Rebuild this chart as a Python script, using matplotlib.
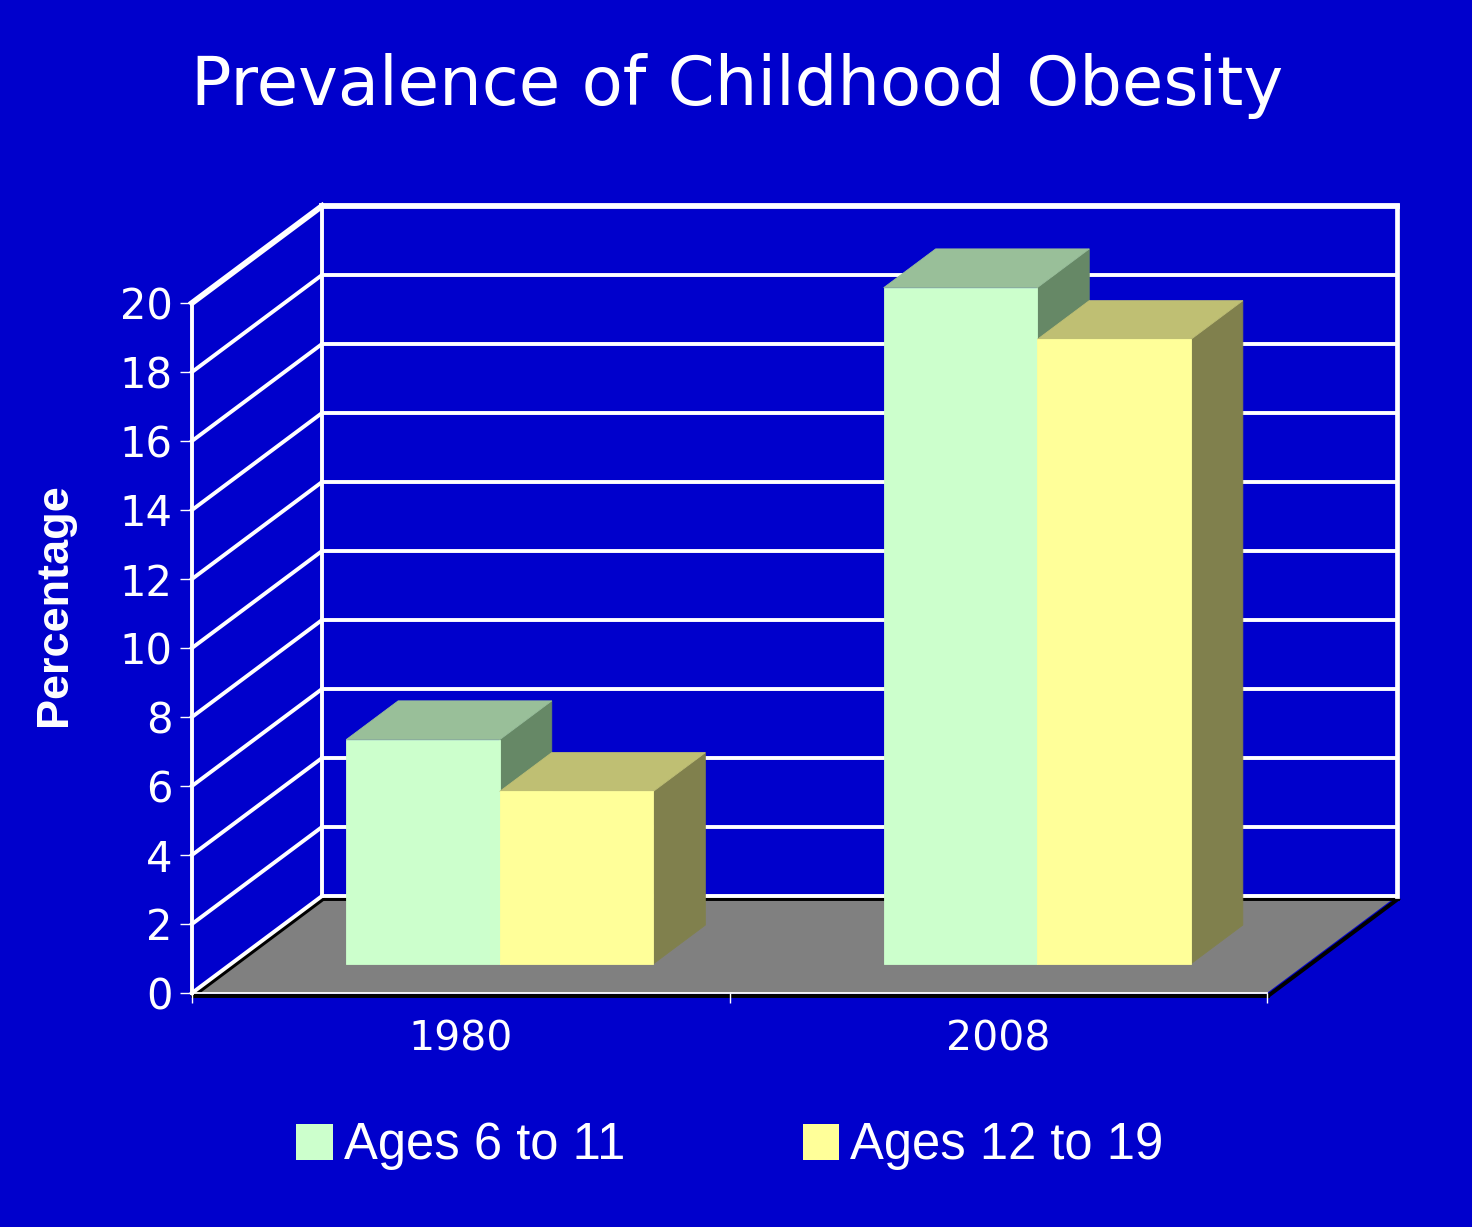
import numpy as np
import matplotlib
matplotlib.use('Agg')
import matplotlib.pyplot as plt
import matplotlib.transforms as mtransforms
from matplotlib.patches import Polygon, Patch

# chart data
years = ['1980', '2008']
ages_6_11 = [6.5, 19.6]
ages_12_19 = [5.0, 18.1]
series_names = ['Ages 6 to 11', 'Ages 12 to 19']
y_ticks = list(range(0, 21, 2))

# colours (front, top, side)
BG = '#0000CC'
green = ('#CCFFCC', '#99BF99', '#668866')
yellow = ('#FFFF99', '#BFBF73', '#80804D')

plt.rcParams['font.family'] = 'DejaVu Sans'

W, H = 1472, 1227
fig = plt.figure(figsize=(W / 100, H / 100), dpi=100, facecolor=BG)

# fake 3d: depth vector of the whole box, in data units
DX = 130 / 537.5
DY = 97 / 34.5
BW = 1 / 3.5          # bar width (gap width 150%)
D0, D1 = 0.3, 0.7     # bar front / back depth

ax = fig.add_axes([192 / W, (H - 993) / H, 1205 / W, (20 + DY) * 34.5 / H])
ax.set_xlim(0, 2 + DX)
ax.set_ylim(0, 20 + DY)
ax.set_facecolor('none')
for s in ax.spines.values():
    s.set_visible(False)


def proj(x, v, d):
    return (x + d * DX, v + d * DY)


def line(p, q, **kw):
    ax.plot([p[0], q[0]], [p[1], q[1]], clip_on=False,
            solid_capstyle='projecting', **kw)


shadow = mtransforms.offset_copy(ax.transData, fig=fig, x=1, y=-3, units='dots')

# floor
ax.add_patch(Polygon([proj(0, 0, 0), proj(2, 0, 0), proj(2, 0, 1), proj(0, 0, 1)],
                     closed=True, facecolor='#808080', edgecolor='none', zorder=1))
for p, q in [(proj(0, 0, 0), proj(0, 0, 1)), (proj(0, 0, 1), proj(2, 0, 1)),
             (proj(2, 0, 0), proj(2, 0, 1)), (proj(0, 0, 0), proj(2, 0, 0))]:
    line(p, q, color='black', lw=2.8, transform=shadow, zorder=1.5)

# walls and gridlines
for v in y_ticks:
    lw = 4.2 if v == 20 else 2.8
    line(proj(0, v, 1), proj(2, v, 1), color='white', lw=lw, zorder=2)
    line(proj(0, v, 0), proj(0, v, 1), color='white', lw=lw, zorder=2)
line(proj(0, 0, 1), proj(0, 20, 1), color='white', lw=2.8, zorder=2)
line(proj(2, 0, 1), proj(2, 20, 1), color='white', lw=3.4, zorder=2)
line(proj(0, 0, 0), proj(0, 20, 0), color='white', lw=2.8, zorder=2)
line(proj(0, 0, 0), proj(2, 0, 0), color='white', lw=1.3, zorder=2)

# bars
for i in range(len(years)):
    c = i + 0.5
    for j, (vals, cols) in enumerate([(ages_6_11, green), (ages_12_19, yellow)]):
        x0 = c - BW + j * BW
        x1 = x0 + BW
        v = vals[i]
        front = [proj(x0, 0, D0), proj(x1, 0, D0), proj(x1, v, D0), proj(x0, v, D0)]
        top = [proj(x0, v, D0), proj(x1, v, D0), proj(x1, v, D1), proj(x0, v, D1)]
        side = [proj(x1, 0, D0), proj(x1, v, D0), proj(x1, v, D1), proj(x1, 0, D1)]
        for pts, col in [(side, cols[2]), (top, cols[1]), (front, cols[0])]:
            ax.add_patch(Polygon(pts, closed=True, facecolor=col,
                                 edgecolor=col, lw=0.6, zorder=3))

# ticks
ax.set_yticks(y_ticks)
ax.tick_params(axis='y', colors='white', labelcolor='white', labelsize=30,
               length=9, width=1, direction='out', pad=5)
ax.set_xticks([0, 1, 2])
ax.set_xticklabels([])
ax.tick_params(axis='x', which='major', colors='white', length=7, width=1,
               direction='out')
ax.set_xticks([0.5, 1.5], minor=True)
ax.set_xticklabels(years, minor=True)
ax.tick_params(axis='x', which='minor', length=0, labelsize=29.5,
               labelcolor='white', pad=19)

# texts
fig.text(737 / W, (H - 105) / H, 'Prevalence of Childhood Obesity',
         color='white', fontsize=48.4, ha='center', va='baseline')
fig.text(55 / W, (H - 605) / H, 'Percentage', color='white', fontsize=32.5,
         fontweight='bold', family='Liberation Sans', rotation=90,
         ha='center', va='center')

handles = [Patch(facecolor=green[0], edgecolor='none'),
           Patch(facecolor=yellow[0], edgecolor='none')]
fig.legend(handles, series_names, loc='center',
           bbox_to_anchor=(730 / W, (H - 1146) / H), ncol=2, frameon=False,
           prop={'family': 'Liberation Sans', 'size': 36.5},
           handlelength=0.72, handleheight=0.72, handletextpad=0.22,
           columnspacing=3.5, labelcolor='white', borderaxespad=0)

fig.savefig('out.png', dpi=100, facecolor=BG)
